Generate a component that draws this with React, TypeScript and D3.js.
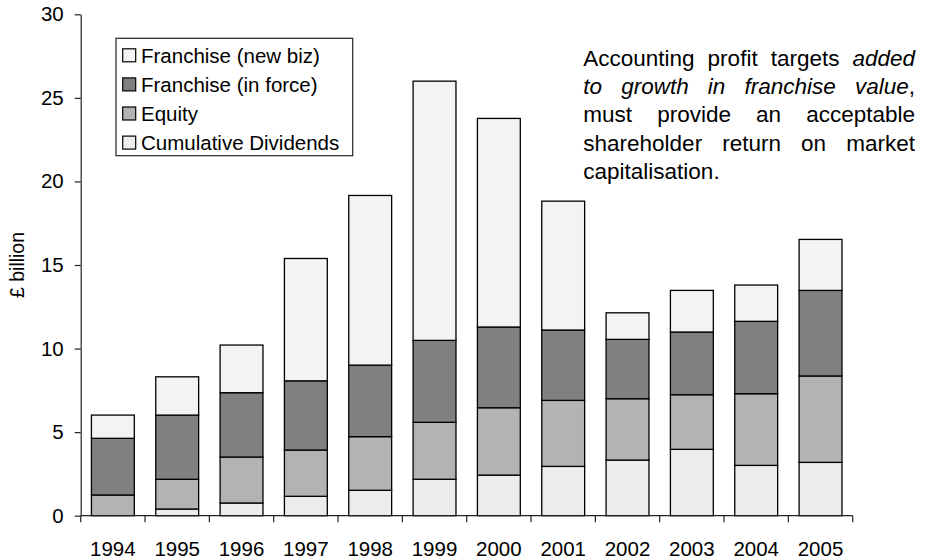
import React, { useEffect, useRef } from "react";
import * as d3 from "d3";

// Years on the category axis
const years = ["1994", "1995", "1996", "1997", "1998", "1999", "2000", "2001", "2002", "2003", "2004", "2005"];

// Stacked components, £ billion (bottom to top)
const cumulativeDividends = [0, 0.4, 0.76, 1.16, 1.52, 2.18, 2.43, 2.95, 3.33, 3.97, 3.01, 3.19];
const equity = [1.24, 1.78, 2.75, 2.77, 3.21, 3.41, 4.03, 3.95, 3.67, 3.27, 4.29, 5.17];
const franchiseInForce = [3.39, 3.84, 3.85, 4.14, 4.28, 4.9, 4.83, 4.21, 3.55, 3.75, 4.33, 5.12];
const franchiseNewBiz = [1.39, 2.29, 2.85, 7.32, 10.15, 15.51, 12.48, 7.71, 1.59, 2.49, 2.17, 3.05];

const yTicks = [0, 5, 10, 15, 20, 25, 30];

const seriesKeys = ["div", "equity", "inforce", "newbiz"];
const seriesFill: Record<string, string> = {
  div: "#ececec",
  equity: "#b3b3b3",
  inforce: "#808080",
  newbiz: "#f3f3f3",
};
const legendItems = [
  { key: "newbiz", label: "Franchise (new biz)" },
  { key: "inforce", label: "Franchise (in force)" },
  { key: "equity", label: "Equity" },
  { key: "div", label: "Cumulative Dividends" },
];

// Justified note; each line is a list of [text, italic] runs
const noteLines: [string, boolean][][] = [
  [["Accounting profit targets", false], ["added", true]],
  [["to growth in franchise value", true], [",", false]],
  [["must provide an acceptable", false]],
  [["shareholder return on market", false]],
  [["capitalisation.", false]],
];

const FONT = "'Liberation Sans', Arial, sans-serif";
const AXIS_FONT_SIZE = 20.5;
const NOTE_FONT_SIZE = 22.5;

export default function App() {
  const ref = useRef<SVGSVGElement>(null);

  useEffect(() => {
    const svg = d3.select(ref.current);
    svg.selectAll("*").remove();

    const left = 80.7, right = 852.7, top = 14.3, bottom = 515.7;

    const x = d3.scaleBand<string>().domain(years).range([left, right]).paddingInner(1 / 3).paddingOuter(1 / 6);
    const y = d3.scaleLinear().domain([0, 30]).range([bottom, top]);

    const rows = years.map((yr, i) => ({
      year: yr,
      div: cumulativeDividends[i],
      equity: equity[i],
      inforce: franchiseInForce[i],
      newbiz: franchiseNewBiz[i],
    }));
    const stacked = d3.stack<any>().keys(seriesKeys)(rows);

    const g = svg.append("g");

    // bars
    stacked.forEach((s) => {
      g.append("g")
        .selectAll("rect")
        .data(s.filter((d) => d[1] - d[0] > 0))
        .join("rect")
        .attr("x", (d) => x(d.data.year)!)
        .attr("width", x.bandwidth())
        .attr("y", (d) => y(d[1]))
        .attr("height", (d) => y(d[0]) - y(d[1]))
        .attr("fill", seriesFill[s.key])
        .attr("stroke", "#000")
        .attr("stroke-width", 1.3);
    });

    // y axis
    const yAxis = g.append("g").attr("transform", `translate(${left},0)`)
      .call(d3.axisLeft(y).tickValues(yTicks).tickSize(6).tickPadding(11).tickSizeOuter(0));
    yAxis.select(".domain").attr("stroke", "#222").attr("stroke-width", 1.2);
    yAxis.selectAll(".tick line").attr("stroke", "#222").attr("stroke-width", 1.2);
    yAxis.selectAll(".tick text").attr("font-family", FONT).attr("font-size", AXIS_FONT_SIZE).attr("fill", "#000");

    // x axis with ticks at category boundaries
    const xg = g.append("g");
    xg.append("line").attr("x1", left).attr("x2", right).attr("y1", bottom).attr("y2", bottom)
      .attr("stroke", "#222").attr("stroke-width", 1.2);
    const step = x.step();
    const boundaries = d3.range(years.length + 1).map((i) => left + i * step);
    xg.selectAll("line.tk").data(boundaries).join("line").attr("class", "tk")
      .attr("x1", (d) => d).attr("x2", (d) => d).attr("y1", bottom).attr("y2", bottom + 6.5)
      .attr("stroke", "#222").attr("stroke-width", 1.2);
    xg.selectAll("text").data(years).join("text")
      .attr("x", (d) => x(d)! + x.bandwidth() / 2)
      .attr("y", 556)
      .attr("text-anchor", "middle")
      .attr("font-family", FONT).attr("font-size", AXIS_FONT_SIZE).attr("fill", "#000")
      .text((d) => d);

    // y axis title
    g.append("text")
      .attr("transform", `translate(24,265) rotate(-90)`)
      .attr("text-anchor", "middle")
      .attr("font-family", FONT).attr("font-size", 19.5).attr("fill", "#000")
      .text("£ billion");

    // legend
    const lg = g.append("g");
    lg.append("rect").attr("x", 116).attr("y", 38.3).attr("width", 236.7).attr("height", 117.4)
      .attr("fill", "#fff").attr("stroke", "#222").attr("stroke-width", 1.2);
    legendItems.forEach((it, i) => {
      const cy = 55.3 + i * 29.1;
      lg.append("rect").attr("x", 122.7).attr("y", cy - 6.5).attr("width", 13).attr("height", 13)
        .attr("fill", seriesFill[it.key]).attr("stroke", "#000").attr("stroke-width", 1.2);
      lg.append("text").attr("x", 141).attr("y", cy + 7.3)
        .attr("font-family", FONT).attr("font-size", AXIS_FONT_SIZE).attr("fill", "#000").text(it.label);
    });

    // justified note text
    const noteLeft = 583.3, noteRight = 915, noteBase = 65.7, noteLead = 28.3;
    const ng = g.append("g");
    noteLines.forEach((runs, li) => {
      const words: { t: string; it: boolean; attach: boolean }[] = [];
      runs.forEach(([txt, it]) => {
        if (txt === ",") words.push({ t: txt, it, attach: true });
        else txt.split(" ").forEach((w) => words.push({ t: w, it, attach: false }));
      });
      const by = noteBase + li * noteLead;
      const nodes = words.map((w) =>
        ng.append("text").attr("y", by).attr("font-family", FONT).attr("font-size", NOTE_FONT_SIZE)
          .attr("font-style", w.it ? "italic" : "normal").attr("fill", "#000").text(w.t)
      );
      const widths = nodes.map((n) => (n.node() as SVGTextElement).getComputedTextLength());
      const last = li === noteLines.length - 1;
      const gaps = words.filter((w, i) => i > 0 && !w.attach).length;
      const total = d3.sum(widths);
      const gap = last || gaps === 0 ? 6.3 : (noteRight - noteLeft - total) / gaps;
      let cx = noteLeft;
      nodes.forEach((n, i) => {
        if (i > 0 && !words[i].attach) cx += gap;
        n.attr("x", cx);
        cx += widths[i];
      });
    });
  }, []);

  return (
    <svg
      ref={ref}
      width={932}
      height={560}
      style={{ position: "absolute", left: 0, top: 0, background: "#fff" }}
    />
  );
}
